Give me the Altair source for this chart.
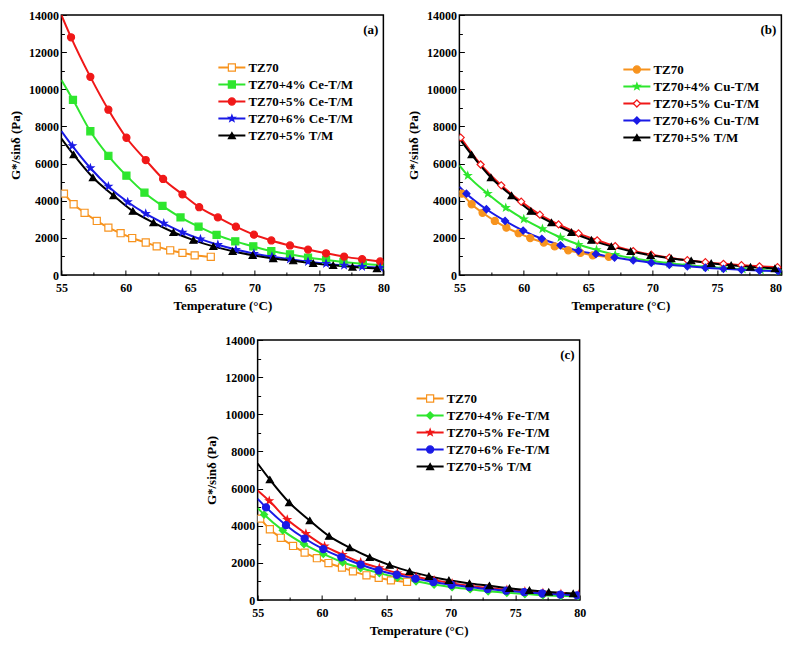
import altair as alt
import pandas as pd

FONT = "Liberation Serif"

# ---------------- data ----------------
# shared control series
TZ70_T = [55.2, 55.95, 56.8, 57.75, 58.65, 59.6, 60.5, 61.55, 62.4, 63.45, 64.4, 65.35, 66.6]
TZ70_G = [4380, 3810, 3350, 2910, 2550, 2250, 1990, 1750, 1540, 1330, 1190, 1060, 980]

TM5_T = [55.0, 55.95, 57.45, 59.05, 60.55, 62.15, 63.7, 65.25, 66.8, 68.3, 69.85, 71.45, 73.0, 74.55, 76.1, 77.6, 79.5, 80.0]
TM5_G = [7350, 6480, 5250, 4280, 3440, 2820, 2300, 1880, 1540, 1280, 1060, 890, 770, 630, 520, 430, 350, 335]

# panel (a) Ce
CE4_T = [55.0, 55.9, 57.25, 58.65, 60.05, 61.45, 62.85, 64.25, 65.65, 67.05, 68.5, 69.9, 71.3, 72.75, 74.15, 75.55, 76.9, 78.4, 79.8, 80.0]
CE4_G = [10500, 9430, 7740, 6420, 5350, 4430, 3720, 3100, 2600, 2160, 1810, 1540, 1290, 1110, 940, 810, 700, 600, 530, 520]
CE5_T = [55.0, 55.75, 57.25, 58.65, 60.05, 61.55, 62.9, 64.4, 65.7, 67.15, 68.55, 69.95, 71.3, 72.75, 74.15, 75.55, 76.95, 78.35, 79.75, 80.0]
CE5_G = [14000, 12800, 10670, 8900, 7390, 6190, 5170, 4340, 3650, 3100, 2600, 2170, 1860, 1590, 1370, 1170, 990, 850, 730, 710]
CE6_T = [55.0, 55.85, 57.25, 58.65, 60.15, 61.55, 62.95, 64.4, 65.8, 67.15, 68.55, 69.95, 71.35, 72.75, 74.15, 75.55, 76.95, 78.35, 79.75, 80.0]
CE6_G = [7750, 6950, 5760, 4770, 3930, 3300, 2780, 2300, 1930, 1630, 1370, 1150, 990, 850, 720, 610, 520, 450, 400, 390]

# panel (b) Cu
CU4_T = [55.0, 55.65, 57.2, 58.6, 60.0, 61.45, 62.85, 64.25, 65.65, 67.1, 68.5, 69.95, 71.3, 72.75, 74.15, 75.55, 77.0, 78.4, 79.8, 80.0]
CU4_G = [5900, 5350, 4380, 3620, 3010, 2480, 2020, 1640, 1350, 1090, 900, 750, 630, 530, 440, 370, 310, 260, 225, 220]
CU5_T = [55.1, 56.65, 58.25, 59.8, 61.25, 62.7, 64.25, 65.7, 67.1, 68.5, 69.9, 71.3, 72.7, 74.1, 75.5, 76.9, 78.3, 79.7, 80.0]
CU5_G = [7400, 5950, 4830, 3950, 3250, 2720, 2240, 1870, 1550, 1290, 1090, 930, 800, 690, 600, 530, 470, 420, 410]
CU6_T = [55.0, 55.55, 57.1, 58.55, 59.95, 61.4, 62.85, 64.25, 65.6, 67.05, 68.5, 69.9, 71.3, 72.7, 74.1, 75.5, 76.9, 78.3, 79.75, 80.0]
CU6_G = [4750, 4380, 3540, 2910, 2390, 1950, 1600, 1300, 1130, 940, 790, 660, 550, 470, 390, 330, 280, 240, 200, 195]

# panel (c) Fe
FE4_T = [55.0, 55.5, 56.95, 58.6, 60.1, 61.6, 63.0, 64.45, 65.85, 67.3, 68.7, 70.1, 71.5, 72.9, 74.35, 75.75, 77.15, 78.55, 79.9, 80.0]
FE4_G = [4950, 4600, 3750, 3010, 2480, 2030, 1720, 1450, 1200, 1010, 830, 690, 580, 470, 390, 320, 260, 220, 190, 185]
FE5_T = [55.0, 55.9, 57.3, 58.75, 60.2, 61.6, 63.0, 64.45, 65.85, 67.3, 68.7, 70.1, 71.5, 72.9, 74.35, 75.75, 77.15, 78.55, 79.9, 80.0]
FE5_G = [5900, 5340, 4330, 3570, 2900, 2440, 2030, 1730, 1450, 1240, 1060, 890, 750, 640, 550, 460, 390, 330, 290, 285]
FE6_T = [55.0, 55.65, 57.2, 58.65, 60.1, 61.5, 63.0, 64.4, 65.8, 67.25, 68.65, 70.05, 71.45, 72.85, 74.3, 75.7, 77.1, 78.5, 79.8, 80.0]
FE6_G = [5450, 4990, 4030, 3310, 2740, 2300, 1910, 1590, 1360, 1150, 970, 820, 700, 590, 500, 420, 350, 290, 250, 245]

X_TICKS = [55, 57.5, 60, 62.5, 65, 67.5, 70, 72.5, 75, 77.5, 80]
Y_TICKS = [0, 1000, 2000, 3000, 4000, 5000, 6000, 7000, 8000, 9000, 10000, 11000, 12000, 13000, 14000]

ORANGE = "#F7931E"
GREEN = "#2EE62E"
RED = "#F01818"
BLUE = "#1A1AE6"
BLACK = "#000000"
WHITE = "#FFFFFF"
STAR = ("M0,-1L0.235,-0.324L0.951,-0.309L0.38,0.124L0.588,0.809L0,0.4"
        "L-0.588,0.809L-0.38,0.124L-0.951,-0.309L-0.235,-0.324Z")

PANEL_A = [
    ("TZ70", TZ70_T, TZ70_G, ORANGE, "square", WHITE),
    ("TZ70+4% Ce-T/M", CE4_T, CE4_G, GREEN, "square", GREEN),
    ("TZ70+5% Ce-T/M", CE5_T, CE5_G, RED, "circle", RED),
    ("TZ70+6% Ce-T/M", CE6_T, CE6_G, BLUE, STAR, BLUE),
    ("TZ70+5% T/M", TM5_T, TM5_G, BLACK, "triangle-up", BLACK),
]
PANEL_B = [
    ("TZ70", TZ70_T, TZ70_G, ORANGE, "circle", ORANGE),
    ("TZ70+4% Cu-T/M", CU4_T, CU4_G, GREEN, STAR, GREEN),
    ("TZ70+5% Cu-T/M", CU5_T, CU5_G, RED, "diamond", WHITE),
    ("TZ70+6% Cu-T/M", CU6_T, CU6_G, BLUE, "diamond", BLUE),
    ("TZ70+5% T/M", TM5_T, TM5_G, BLACK, "triangle-up", BLACK),
]
PANEL_C = [
    ("TZ70", TZ70_T, TZ70_G, ORANGE, "square", WHITE),
    ("TZ70+4% Fe-T/M", FE4_T, FE4_G, GREEN, "diamond", GREEN),
    ("TZ70+5% Fe-T/M", FE5_T, FE5_G, RED, STAR, RED),
    ("TZ70+6% Fe-T/M", FE6_T, FE6_G, BLUE, "circle", BLUE),
    ("TZ70+5% T/M", TM5_T, TM5_G, BLACK, "triangle-up", BLACK),
]

W, H = 322, 260
IND = dict(color="independent", stroke="independent", fill="independent", shape="independent")


def panel(series, label, lx, ly, flush_end=False):
    rows = []
    for k, (name, T, G, col, shp, fil) in enumerate(series):
        for t, g in zip(T, G):
            rows.append({"T": t, "G": g, "s": name, "k": k})
    df = pd.DataFrame(rows)
    names = [s[0] for s in series]
    colors = [s[3] for s in series]
    shapes = [s[4] for s in series]
    fills = [s[5] for s in series]

    xkw = {}
    if flush_end:
        xkw["labelAlign"] = {"condition": {"test": "datum.value === 80", "value": "right"},
                             "value": "center"}
    xaxis = alt.Axis(
        values=X_TICKS, title="Temperature (°C)",
        labelExpr="datum.value % 5 === 0 ? datum.label : ''",
        offset=-5, tickSize=5, domain=False, grid=False,
        labelPadding=7, titlePadding=6, labelFlush=False, labelOverlap=False,
        tickDash={"condition": {"test": "datum.value % 5 !== 0", "value": [0, 2, 3, 0]},
                  "value": [10, 0]},
        **xkw,
    )
    yaxis = alt.Axis(
        values=Y_TICKS, title="G*/sinδ (Pa)", format="d",
        labelExpr="datum.value % 2000 === 0 ? datum.label : ''",
        offset=-5, tickSize=5, domain=False, grid=False,
        labelPadding=3, titlePadding=6, labelFlush=False, labelOverlap=False,
        tickDash={"condition": {"test": "datum.value % 2000 !== 0", "value": [0, 2, 3, 0]},
                  "value": [10, 0]},
    )
    x = alt.X("T:Q", scale=alt.Scale(domain=[55, 80], nice=False, zero=False), axis=xaxis)
    y = alt.Y("G:Q", scale=alt.Scale(domain=[0, 14000], nice=False), axis=yaxis)

    legA = alt.Legend(
        orient="none", legendX=lx, legendY=ly, title=None,
        symbolType="stroke", symbolSize=729, symbolStrokeWidth=2,
        clipHeight=13, rowPadding=3, labelOffset=2, padding=0,
        labelFont=FONT, labelFontSize=13, labelFontWeight="bold",
        labelColor="black", labelLimit=300, symbolOpacity=1,
    )
    legB = alt.Legend(
        orient="none", legendX=lx, legendY=ly, title=None,
        symbolSize=50, symbolStrokeWidth=1.2, symbolOffset=8,
        clipHeight=13, rowPadding=3, labelOffset=2, padding=0,
        labelFont=FONT, labelFontSize=13, labelFontWeight="bold",
        labelExpr="''", labelLimit=300, symbolOpacity=1,
    )
    sortk = alt.EncodingSortField(field="k", op="min")

    base = alt.Chart(df)
    line = base.mark_line(strokeWidth=2, interpolate="monotone", clip=True).encode(
        x=x, y=y,
        color=alt.Color("s:N", scale=alt.Scale(domain=names, range=colors), legend=legA),
    )
    pts = base.transform_filter("datum.T > 55.01 && datum.T < 79.99").mark_point(
        size=50, strokeWidth=1.2, opacity=1, fillOpacity=1, clip=True
    ).encode(
        x=x, y=y,
        shape=alt.Shape("s:N", sort=sortk, scale=alt.Scale(range=shapes), legend=legB),
        stroke=alt.Stroke("s:N", sort=sortk, scale=alt.Scale(range=colors), legend=legB),
        fill=alt.Fill("s:N", sort=sortk, scale=alt.Scale(range=fills), legend=legB),
    )
    lab = alt.Chart(pd.DataFrame({"label": [label]})).mark_text(
        align="right", baseline="middle", font=FONT, fontSize=13, fontWeight="bold", color="black"
    ).encode(text="label:N", x=alt.value(W - 5), y=alt.value(15))
    return alt.layer(line, pts, lab).properties(width=W, height=H)


a = panel(PANEL_A, "(a)", 156, 46)
b = panel(PANEL_B, "(b)", 163, 48, flush_end=True)
c = panel(PANEL_C, "(c)", 158, 52)

LEG_IND = dict(color="independent", stroke="independent", fill="independent", shape="independent")
top = alt.hconcat(a, b, spacing=16).resolve_scale(**IND).resolve_legend(**LEG_IND)
chart = alt.vconcat(top, c, spacing=20, center=True).resolve_scale(**IND).resolve_legend(
    **LEG_IND
).properties(
    padding={"left": 0, "top": 0, "right": 0, "bottom": 0}
).configure(font=FONT).configure_axis(
    labelFont=FONT, titleFont=FONT, labelFontSize=12, titleFontSize=13,
    labelFontWeight="bold", titleFontWeight="bold",
    labelColor="black", titleColor="black", tickColor="black", tickWidth=1,
).configure_view(stroke="black", strokeWidth=1.5)

chart.save("out.html", embed_options={"renderer": "svg", "actions": False})
